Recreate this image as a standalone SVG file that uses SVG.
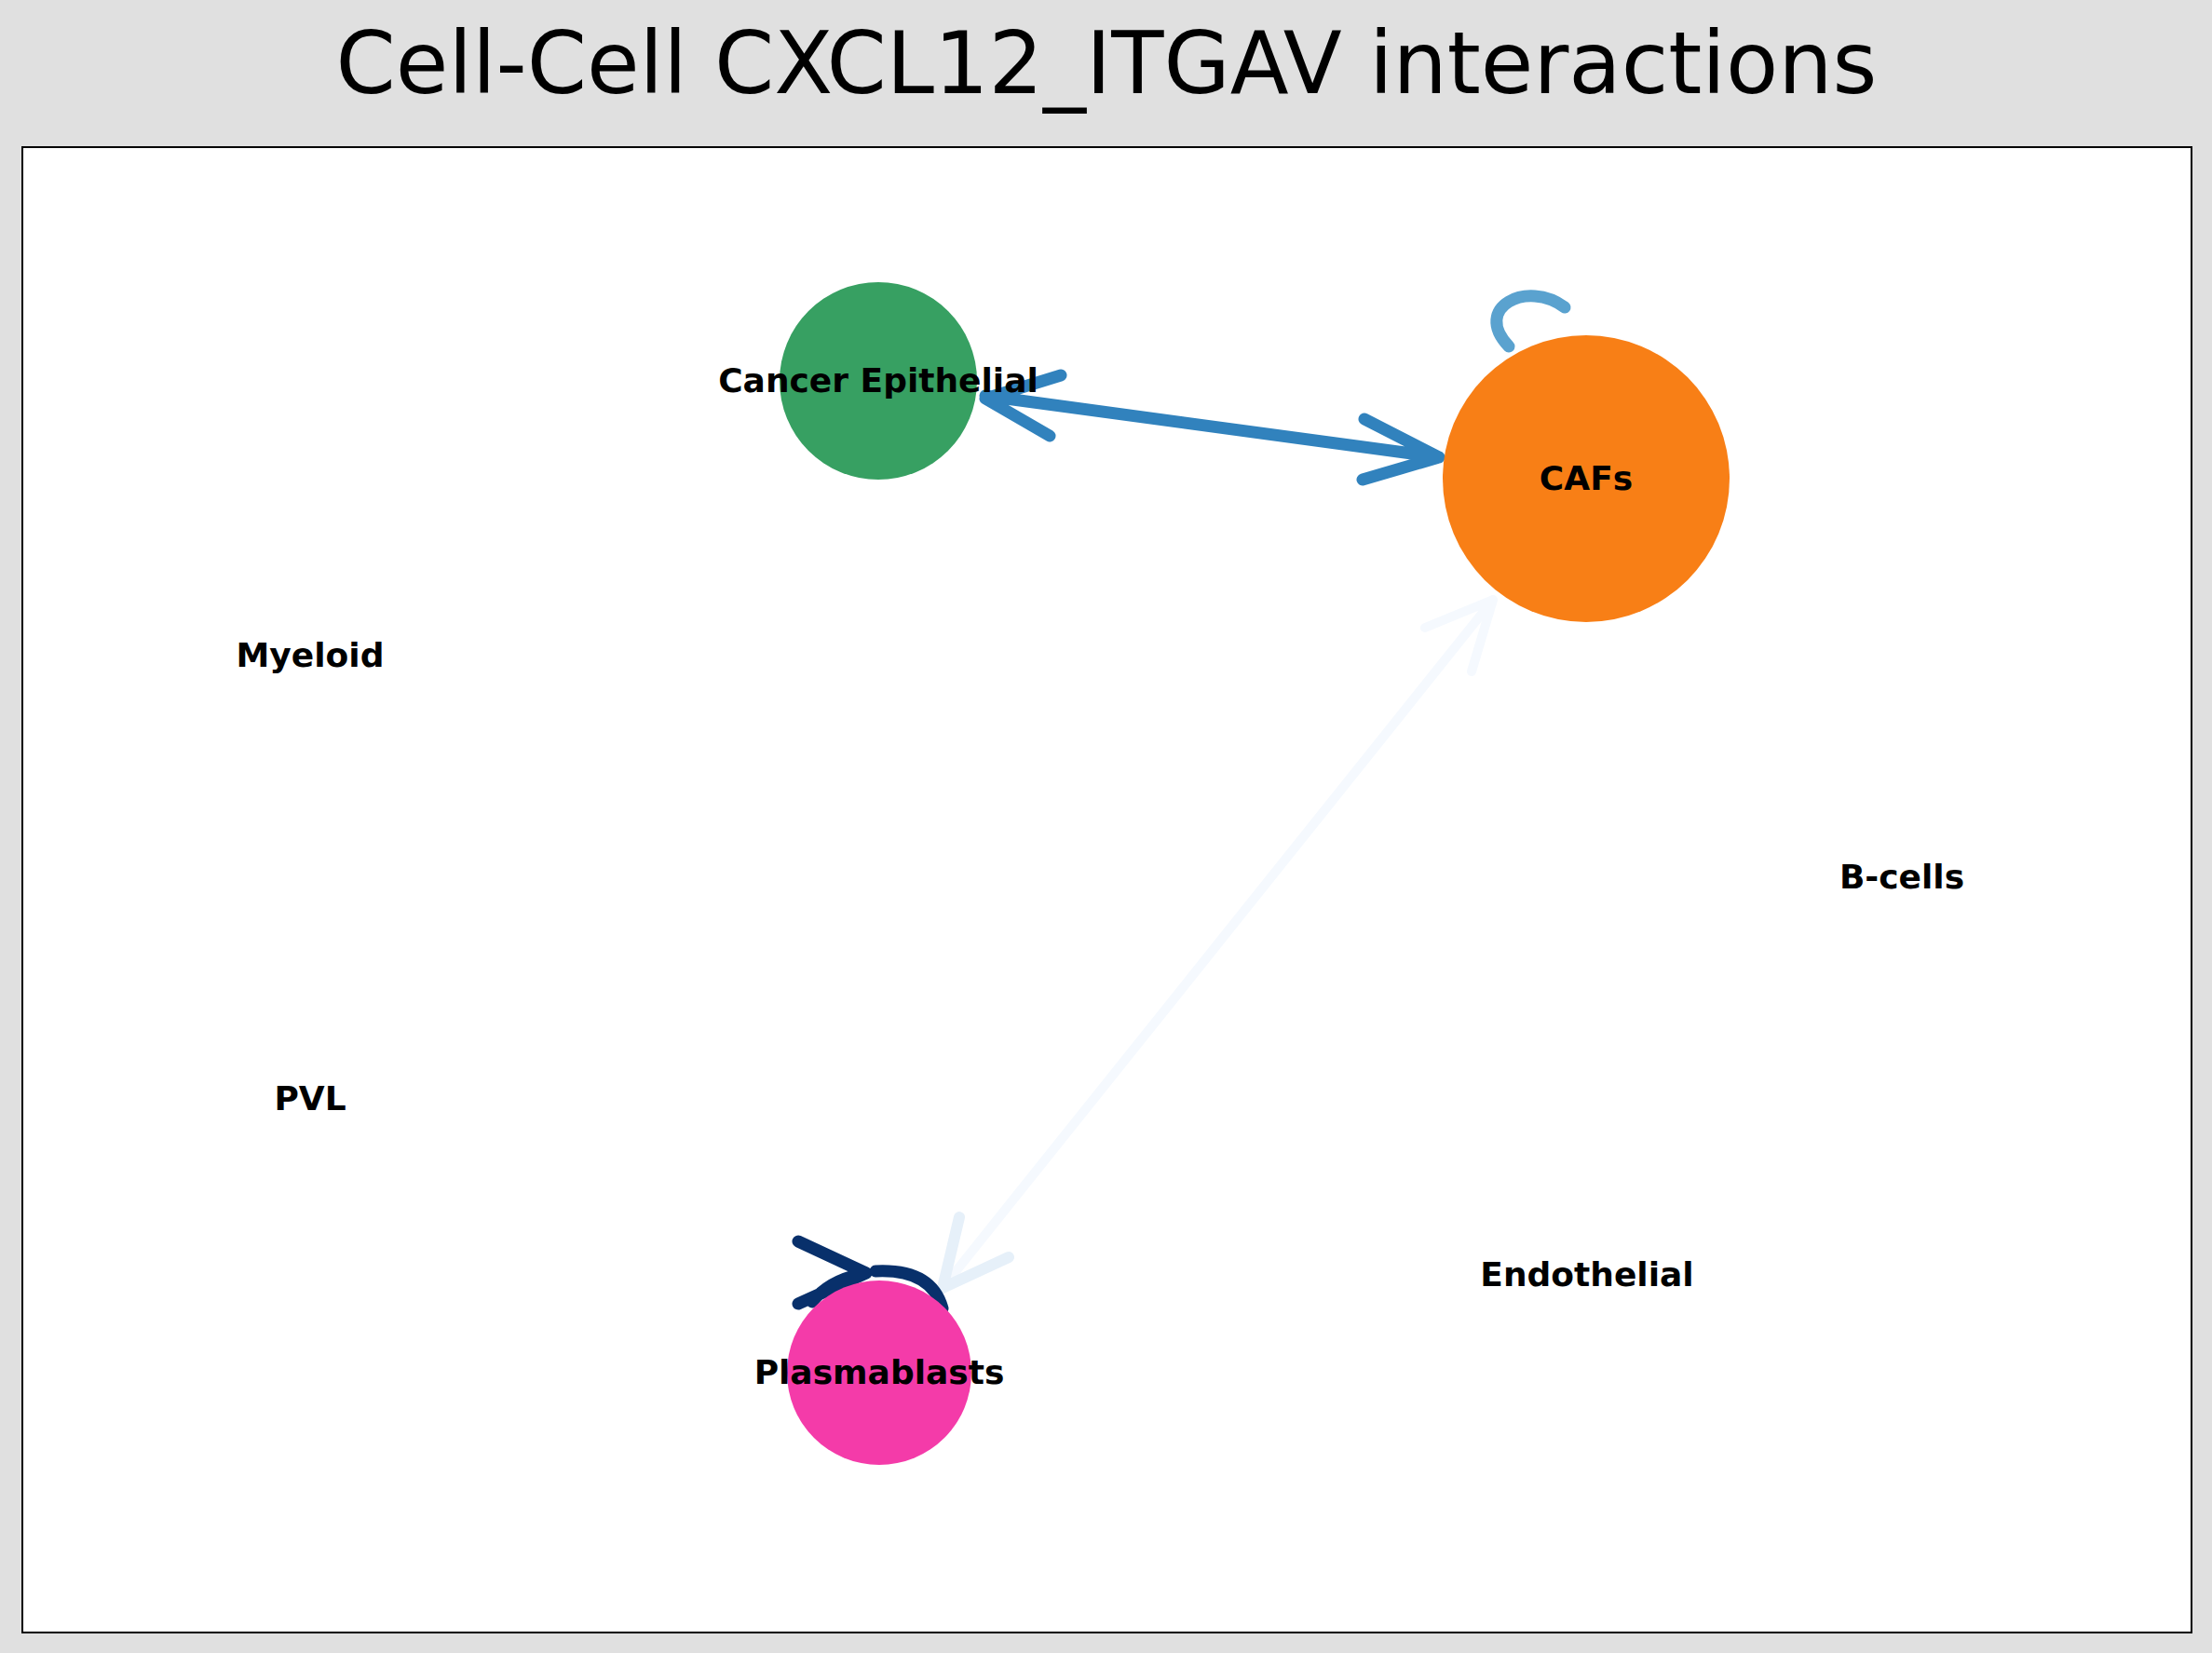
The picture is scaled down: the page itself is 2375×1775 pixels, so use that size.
<svg xmlns="http://www.w3.org/2000/svg" width="2375" height="1775" viewBox="0 0 2375 1775">
<style>
.lbl{font-family:"DejaVu Sans",sans-serif;font-weight:bold;font-size:36px;text-anchor:middle;dominant-baseline:central;fill:#000}
.e{fill:none;stroke-linecap:round;stroke-linejoin:round}
</style>
<rect width="2375" height="1775" fill="#e0e0e0"/>
<rect x="24" y="158" width="2329" height="1595" fill="#fff" stroke="#000" stroke-width="2"/>
<text x="1188" y="68" font-family="DejaVu Sans,sans-serif" font-size="92" text-anchor="middle" dominant-baseline="central">Cell-Cell CXCL12_ITGAV interactions</text>
<g id="connectors">
<path class="e" d="M1620 372 C1580 330 1640 300 1680 330" stroke="#5aa2cf" stroke-width="13"/>
<path class="e" d="M1058 425 L1545 491 M1465 450 L1545 491 L1463 515 M1139 403 L1058 428 L1127 468" stroke="#3182bd" stroke-width="13"/>
<path class="e" d="M1603 644 L1012 1383 M1530 674 L1603 644 L1580 721" stroke="#f5f9fe" stroke-width="10"/>
<path class="e" d="M1030 1307 L1012 1383 L1083 1350" stroke="#e6f0f9" stroke-width="12"/>
<path class="e" d="M940 1365 Q1000 1362 1012 1405 M872 1398 Q890 1375 925 1368 M857 1333 L930 1367 L857 1400" stroke="#08306b" stroke-width="13"/>
</g>
<g id="CancerEpithelial"><circle cx="943" cy="409" r="106" fill="#37a062"/><text class="lbl" x="943" y="408">Cancer Epithelial</text></g>
<g id="CAFs"><circle cx="1703" cy="514" r="154" fill="#f87f16"/><text class="lbl" x="1703" y="513">CAFs</text></g>
<g id="Plasmablasts"><circle cx="944" cy="1474" r="99" fill="#f43ba9"/><text class="lbl" x="944" y="1473">Plasmablasts</text></g>
<g id="Myeloid"><text class="lbl" x="333" y="703">Myeloid</text></g>
<g id="PVL"><text class="lbl" x="333" y="1179">PVL</text></g>
<g id="Bcells"><text class="lbl" x="2042" y="941">B-cells</text></g>
<g id="Endothelial"><text class="lbl" x="1704" y="1368">Endothelial</text></g>
</svg>
